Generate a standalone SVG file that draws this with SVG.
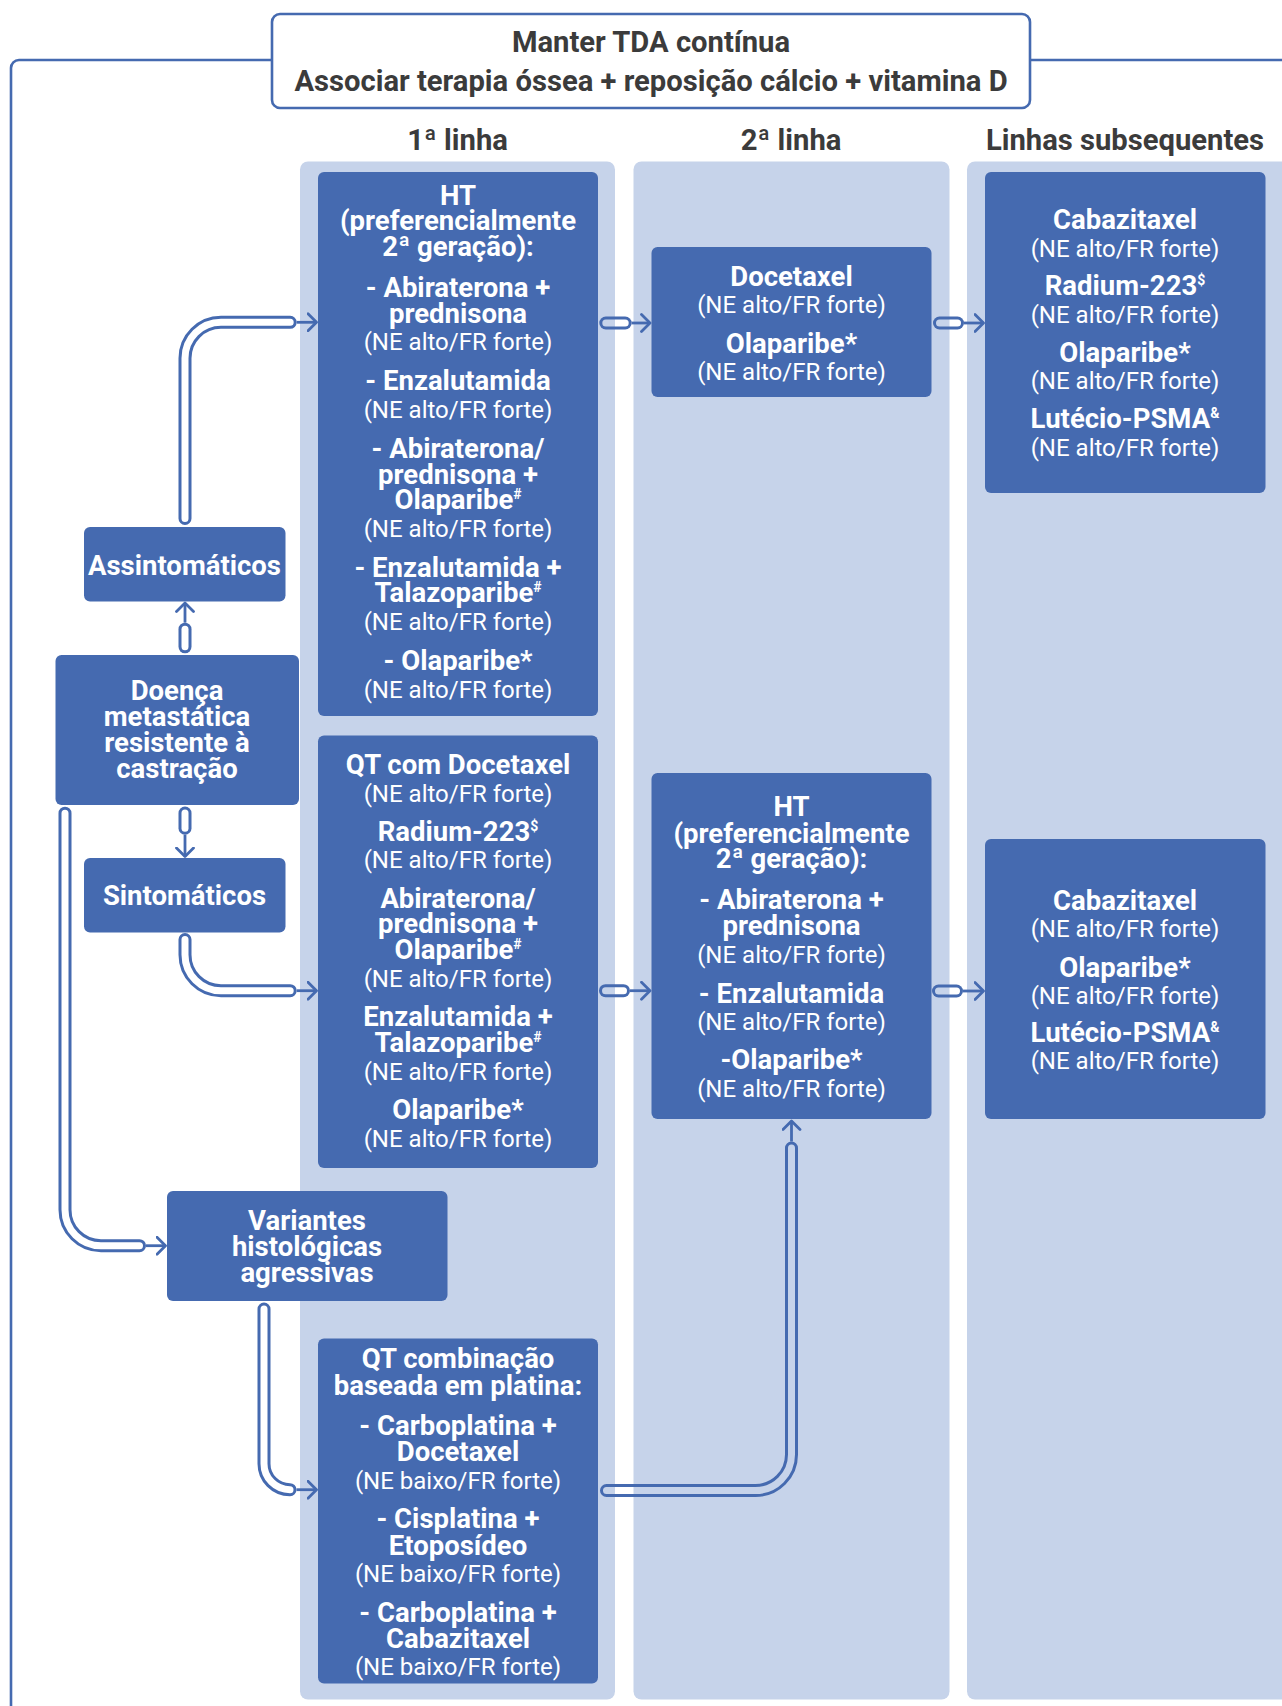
<svg xmlns="http://www.w3.org/2000/svg" xmlns:xlink="http://www.w3.org/1999/xlink" width="1282" height="1706" viewBox="0 0 1282 1706">
<style>
.col{fill:#C6D3EA}
.box{fill:#456AB0}
.t{font-family:Roboto,"Liberation Sans",sans-serif;fill:#fff;text-anchor:middle}
.b{font-weight:700;font-size:27.5px}
.r{font-weight:400;font-size:24px}
.h{font-family:Roboto,"Liberation Sans",sans-serif;font-weight:700;font-size:29.2px;fill:#3B3B3B;text-anchor:middle}
.sup{font-size:14px}
.pipe{fill:none;stroke:#456AB0;stroke-width:13;stroke-linecap:round;stroke-linejoin:round}
.hole{fill:none;stroke:#000;stroke-width:7;stroke-linecap:round;stroke-linejoin:round}
.thin{fill:none;stroke:#456AB0;stroke-width:2.8;marker-end:url(#arr)}
.frame{fill:none;stroke:#456AB0;stroke-width:2.6}
</style>
<defs>
<marker id="arr" markerUnits="userSpaceOnUse" markerWidth="14" markerHeight="20" refX="10" refY="10" orient="auto" viewBox="0 0 14 20">
<path d="M1.5,1.5 L10,10 L1.5,18.5" fill="none" stroke="#456AB0" stroke-width="2.8" stroke-linecap="round" stroke-linejoin="round"/>
</marker>
<path id="p1" d="M185,646.8 V629.2"/>
<path id="p2" d="M185,813 V828.2"/>
<path id="p3" d="M185,518.5 V358.3 A36,36 0 0 1 221,322.3 H290.2"/>
<path id="p4" d="M185,939.5 V954.7 A36,36 0 0 0 221,990.7 H290.2"/>
<path id="p5" d="M65,813.2 V1209.7 A36,36 0 0 0 101,1245.7 H139.5"/>
<path id="p6" d="M264,1309 V1463.7 A26,26 0 0 0 290,1489.7"/>
<path id="p7" d="M606.5,1490.5 H755.5 A36,36 0 0 0 791.5,1454.5 V1148"/>
<path id="p8" d="M605.8,323 H625.2"/>
<path id="p9" d="M939.5,323 H957.5"/>
<path id="p10" d="M605.5,990.7 H623.5"/>
<path id="p11" d="M938.5,991 H956.5"/>
<mask id="hollow" maskUnits="userSpaceOnUse" x="0" y="0" width="1282" height="1706">
<rect x="0" y="0" width="1282" height="1706" fill="#fff"/>
<use xlink:href="#p1" class="hole"/>
<use xlink:href="#p2" class="hole"/>
<use xlink:href="#p3" class="hole"/>
<use xlink:href="#p4" class="hole"/>
<use xlink:href="#p5" class="hole"/>
<use xlink:href="#p6" class="hole"/>
<use xlink:href="#p7" class="hole"/>
<use xlink:href="#p8" class="hole"/>
<use xlink:href="#p9" class="hole"/>
<use xlink:href="#p10" class="hole"/>
<use xlink:href="#p11" class="hole"/>
</mask>
</defs>

<g id="frame">
<path class="frame" d="M272,60 H19 A8,8 0 0 0 11,68 V1706"/>
<path class="frame" d="M1030,60 H1282"/>
</g>

<g id="columns">
<rect class="col" x="300" y="161.5" width="315" height="1538" rx="8"/>
<rect class="col" x="633.5" y="161.5" width="316" height="1538" rx="8"/>
<rect class="col" x="967" y="161.5" width="330" height="1538" rx="8"/>
<text class="h" x="457.5" y="149.5">1ª linha</text>
<text class="h" x="791" y="149.5">2ª linha</text>
<text class="h" x="1125" y="149.5">Linhas subsequentes</text>
</g>

<g id="top-box">
<rect x="272" y="14" width="758" height="94" rx="8" fill="#fff" stroke="#456AB0" stroke-width="2.6"/>
<text class="h" x="651" y="51.5">Manter TDA contínua</text>
<text class="h" x="651" y="90.5">Associar terapia óssea + reposição cálcio + vitamina D</text>
</g>

<g id="assintomaticos">
<rect class="box" x="84" y="527" width="201.5" height="74.5" rx="6"/>
<text class="t b" x="184.5" y="575">Assintomáticos</text>
</g>

<g id="doenca">
<rect class="box" x="55.5" y="655" width="243.5" height="150" rx="6"/>
<text class="t b" x="177" y="700">Doença</text>
<text class="t b" x="177" y="726">metastática</text>
<text class="t b" x="177" y="752">resistente à</text>
<text class="t b" x="177" y="778">castração</text>
</g>

<g id="sintomaticos">
<rect class="box" x="84" y="858" width="201.5" height="74.5" rx="6"/>
<text class="t b" x="184.5" y="905">Sintomáticos</text>
</g>

<g id="variantes">
<rect class="box" x="167" y="1191" width="280.5" height="110" rx="6"/>
<text class="t b" x="307" y="1230">Variantes</text>
<text class="t b" x="307" y="1256">histológicas</text>
<text class="t b" x="307" y="1282">agressivas</text>
</g>

<g id="ht-1a-linha">
<rect class="box" x="318" y="172" width="280" height="544" rx="6"/>
<text class="t b" x="458" y="204.5">HT</text>
<text class="t b" x="458" y="230">(preferencialmente</text>
<text class="t b" x="458" y="255.5">2ª geração):</text>
<text class="t b" x="458" y="297">- Abiraterona +</text>
<text class="t b" x="458" y="322.5">prednisona</text>
<text class="t r" x="458" y="350">(NE alto/FR forte)</text>
<text class="t b" x="458" y="390.3">- Enzalutamida</text>
<text class="t r" x="458" y="417.8">(NE alto/FR forte)</text>
<text class="t b" x="458" y="458">- Abiraterona/</text>
<text class="t b" x="458" y="483.5">prednisona +</text>
<text class="t b" x="458" y="509">Olaparibe<tspan class="sup" dy="-10">#</tspan></text>
<text class="t r" x="458" y="536.5">(NE alto/FR forte)</text>
<text class="t b" x="458" y="576.8">- Enzalutamida +</text>
<text class="t b" x="458" y="602.3">Talazoparibe<tspan class="sup" dy="-10">#</tspan></text>
<text class="t r" x="458" y="629.8">(NE alto/FR forte)</text>
<text class="t b" x="458" y="670">- Olaparibe*</text>
<text class="t r" x="458" y="697.5">(NE alto/FR forte)</text>
</g>

<g id="qt-docetaxel">
<rect class="box" x="318" y="735.5" width="280" height="432.5" rx="6"/>
<text class="t b" x="458" y="774">QT com Docetaxel</text>
<text class="t r" x="458" y="801.5">(NE alto/FR forte)</text>
<text class="t b" x="458" y="841">Radium-223<tspan class="sup" dy="-10">$</tspan></text>
<text class="t r" x="458" y="868">(NE alto/FR forte)</text>
<text class="t b" x="458" y="907.5">Abiraterona/</text>
<text class="t b" x="458" y="933">prednisona +</text>
<text class="t b" x="458" y="959">Olaparibe<tspan class="sup" dy="-10">#</tspan></text>
<text class="t r" x="458" y="986.5">(NE alto/FR forte)</text>
<text class="t b" x="458" y="1026">Enzalutamida +</text>
<text class="t b" x="458" y="1051.5">Talazoparibe<tspan class="sup" dy="-10">#</tspan></text>
<text class="t r" x="458" y="1079.5">(NE alto/FR forte)</text>
<text class="t b" x="458" y="1119.3">Olaparibe*</text>
<text class="t r" x="458" y="1146.5">(NE alto/FR forte)</text>
</g>

<g id="qt-platina">
<rect class="box" x="318" y="1338.5" width="280" height="345" rx="6"/>
<text class="t b" x="458" y="1368">QT combinação</text>
<text class="t b" x="458" y="1394.5">baseada em platina:</text>
<text class="t b" x="458" y="1434.5">- Carboplatina +</text>
<text class="t b" x="458" y="1461">Docetaxel</text>
<text class="t r" x="458" y="1488.5">(NE baixo/FR forte)</text>
<text class="t b" x="458" y="1528">- Cisplatina +</text>
<text class="t b" x="458" y="1554.5">Etoposídeo</text>
<text class="t r" x="458" y="1582">(NE baixo/FR forte)</text>
<text class="t b" x="458" y="1621.5">- Carboplatina +</text>
<text class="t b" x="458" y="1647.5">Cabazitaxel</text>
<text class="t r" x="458" y="1675">(NE baixo/FR forte)</text>
</g>

<g id="docetaxel-2a-linha">
<rect class="box" x="651.5" y="247" width="280" height="150" rx="6"/>
<text class="t b" x="791.5" y="286">Docetaxel</text>
<text class="t r" x="791.5" y="313.3">(NE alto/FR forte)</text>
<text class="t b" x="791.5" y="352.8">Olaparibe*</text>
<text class="t r" x="791.5" y="380">(NE alto/FR forte)</text>
</g>

<g id="ht-2a-linha">
<rect class="box" x="651.5" y="773" width="280" height="346" rx="6"/>
<text class="t b" x="791.5" y="816">HT</text>
<text class="t b" x="791.5" y="842.5">(preferencialmente</text>
<text class="t b" x="791.5" y="868.3">2ª geração):</text>
<text class="t b" x="791.5" y="909.3">- Abiraterona +</text>
<text class="t b" x="791.5" y="935">prednisona</text>
<text class="t r" x="791.5" y="963">(NE alto/FR forte)</text>
<text class="t b" x="791.5" y="1002.7">- Enzalutamida</text>
<text class="t r" x="791.5" y="1030">(NE alto/FR forte)</text>
<text class="t b" x="791.5" y="1069.3">-Olaparibe*</text>
<text class="t r" x="791.5" y="1096.5">(NE alto/FR forte)</text>
</g>

<g id="subsequentes-1">
<rect class="box" x="985" y="172" width="280.5" height="321" rx="6"/>
<text class="t b" x="1125" y="229.3">Cabazitaxel</text>
<text class="t r" x="1125" y="256.7">(NE alto/FR forte)</text>
<text class="t b" x="1125" y="295">Radium-223<tspan class="sup" dy="-10">$</tspan></text>
<text class="t r" x="1125" y="322.7">(NE alto/FR forte)</text>
<text class="t b" x="1125" y="361.7">Olaparibe*</text>
<text class="t r" x="1125" y="389.3">(NE alto/FR forte)</text>
<text class="t b" x="1125" y="428.3">Lutécio-PSMA<tspan class="sup" dy="-10">&amp;</tspan></text>
<text class="t r" x="1125" y="456">(NE alto/FR forte)</text>
</g>

<g id="subsequentes-2">
<rect class="box" x="985" y="839" width="280.5" height="280" rx="6"/>
<text class="t b" x="1125" y="910">Cabazitaxel</text>
<text class="t r" x="1125" y="937.3">(NE alto/FR forte)</text>
<text class="t b" x="1125" y="976.5">Olaparibe*</text>
<text class="t r" x="1125" y="1004">(NE alto/FR forte)</text>
<text class="t b" x="1125" y="1042">Lutécio-PSMA<tspan class="sup" dy="-10">&amp;</tspan></text>
<text class="t r" x="1125" y="1069">(NE alto/FR forte)</text>
</g>

<g id="connectors">
<g mask="url(#hollow)">
<use xlink:href="#p1" class="pipe"/>
<use xlink:href="#p2" class="pipe"/>
<use xlink:href="#p3" class="pipe"/>
<use xlink:href="#p4" class="pipe"/>
<use xlink:href="#p5" class="pipe"/>
<use xlink:href="#p6" class="pipe"/>
<use xlink:href="#p7" class="pipe"/>
<use xlink:href="#p8" class="pipe"/>
<use xlink:href="#p9" class="pipe"/>
<use xlink:href="#p10" class="pipe"/>
<use xlink:href="#p11" class="pipe"/>
</g>
<path class="thin" d="M185,622.7 V603"/>
<path class="thin" d="M185,834.7 V856.5"/>
<path class="thin" d="M296.7,322.3 H316.5"/>
<path class="thin" d="M296.7,990.7 H316.5"/>
<path class="thin" d="M146,1245.7 H165.5"/>
<path class="thin" d="M296.5,1489.7 H316.5"/>
<path class="thin" d="M791.5,1141.5 V1121"/>
<path class="thin" d="M631.7,323 H650"/>
<path class="thin" d="M964,323 H983.5"/>
<path class="thin" d="M630,990.7 H650"/>
<path class="thin" d="M963,991 H983.5"/>
</g>
</svg>
